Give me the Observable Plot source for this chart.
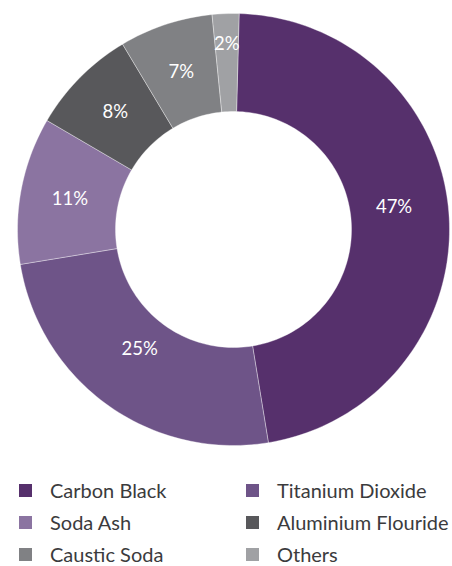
<!DOCTYPE html>
<html>
<head>
<meta charset="utf-8">
<script src="https://cdn.jsdelivr.net/npm/d3@7"></script>
<script src="https://cdn.jsdelivr.net/npm/@observablehq/plot@0.6"></script>
<style>
  html, body { margin: 0; padding: 0; background: #fff; }
  #chart { width: 452px; font-family: Lato, "Open Sans", sans-serif; }
  #chart svg { display: block; }
  .legend { display: grid; grid-template-columns: 227px 225px; row-gap: 14px; margin-top: 6.5px; }
  .legend .item { display: flex; align-items: center; height: 18px; line-height: 18px; padding-left: 19px; font-size: 20px; color: #3b3b3d; white-space: nowrap; }
  .legend .sw { width: 13px; height: 13px; margin-right: 18px; flex: none; position: relative; top: 1px; }
</style>
</head>
<body>
<div id="chart"></div>
<script>
// Market share by product
const categories = ["Carbon Black", "Titanium Dioxide", "Soda Ash", "Aluminium Flouride", "Caustic Soda", "Others"];
const shares = [47, 25, 11, 8, 7, 2];
const colors = ["#56306c", "#6e5488", "#8b74a1", "#58585b", "#808184", "#a0a1a4"];

const W = 452, H = 474;
const cx = 233, cy = 229, R = 216;   // donut centre and outer radius, px
const inner = 118 / 216;             // inner radius as a fraction of the outer one
const start = 1.5 * Math.PI / 180;   // first segment starts just past 12 o'clock

const total = d3.sum(shares);
let acc = 0;
const slices = categories.map((name, i) => {
  const a0 = start + acc / total * 2 * Math.PI;
  acc += shares[i];
  const a1 = start + acc / total * 2 * Math.PI;
  return {name, value: shares[i], a0, a1};
});

// Outline of each ring segment: outer arc forward, inner arc back (angles clockwise from 12 o'clock)
const outline = [];
for (const s of slices) {
  const n = Math.max(2, Math.ceil((s.a1 - s.a0) / (2 * Math.PI) * 240));
  const pts = [];
  for (let k = 0; k <= n; ++k) {
    const a = s.a0 + (s.a1 - s.a0) * k / n;
    pts.push([Math.sin(a), Math.cos(a)]);
  }
  for (let k = n; k >= 0; --k) {
    const a = s.a0 + (s.a1 - s.a0) * k / n;
    pts.push([inner * Math.sin(a), inner * Math.cos(a)]);
  }
  pts.push(pts[0]);
  for (const [x, y] of pts) outline.push({name: s.name, x, y});
}

// Percentage labels at the middle of each segment; narrow ones sit nearer the rim,
// wide ones a little inward and raised
const labels = slices.map(s => {
  const a = (s.a0 + s.a1) / 2;
  const wide = s.value > 20;
  const r = s.value < 5 ? 0.86 : wide ? 0.745 : 0.77;
  return {text: `${s.value}%`, x: r * Math.sin(a), y: r * Math.cos(a), wide};
});

const labelStyle = {x: "x", y: "y", text: "text", fill: "#ffffff", fontSize: 18.5};

const plot = Plot.plot({
  width: W,
  height: H,
  margin: 0,
  x: {domain: [-cx / R, (W - cx) / R], range: [0, W], axis: null},
  y: {domain: [-(H - cy) / R, cy / R], range: [H, 0], axis: null},
  color: {domain: categories, range: colors},
  style: {fontFamily: "Lato, 'Open Sans', sans-serif", background: "#fff"},
  marks: [
    Plot.line(outline, {x: "x", y: "y", z: "name", fill: "name", stroke: "#ffffff", strokeWidth: 0.6, strokeOpacity: 0.6, curve: "linear"}),
    Plot.text(labels.filter(d => !d.wide), labelStyle),
    Plot.text(labels.filter(d => d.wide), {...labelStyle, dy: -11})
  ]
});

const root = document.getElementById("chart");
root.appendChild(plot);

const legend = document.createElement("div");
legend.className = "legend";
categories.forEach((name, i) => {
  const item = document.createElement("div");
  item.className = "item";
  const sw = document.createElement("span");
  sw.className = "sw";
  sw.style.background = colors[i];
  item.appendChild(sw);
  item.appendChild(document.createTextNode(name));
  legend.appendChild(item);
});
root.appendChild(legend);
</script>
</body>
</html>
